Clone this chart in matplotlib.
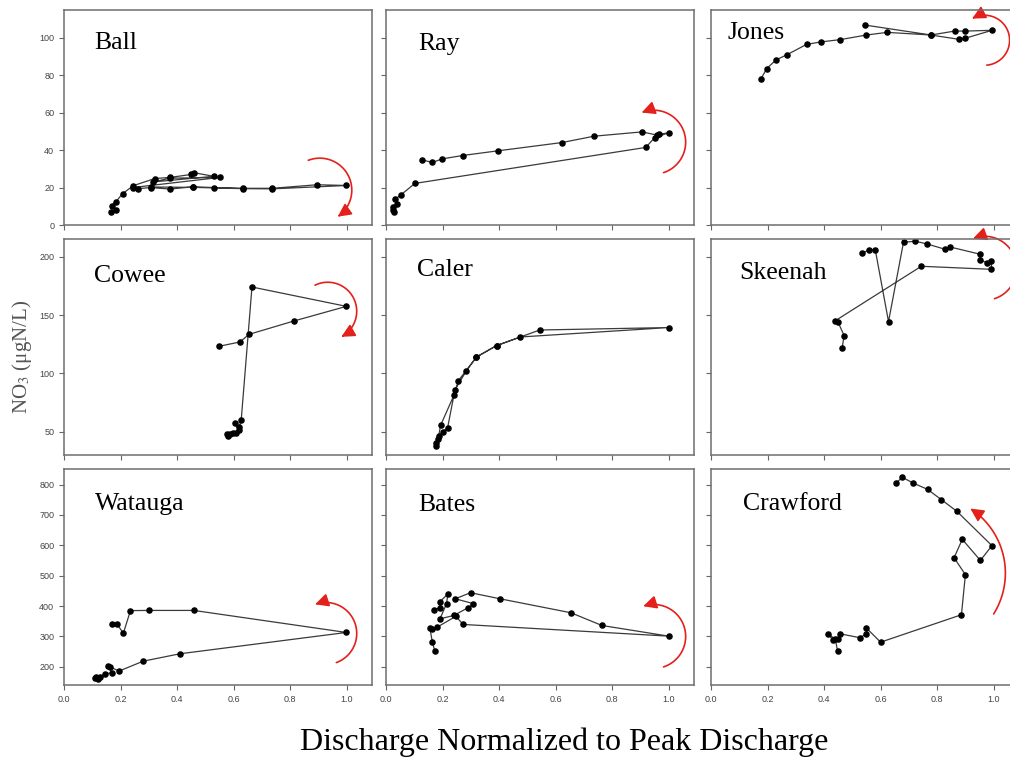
import numpy as np
import matplotlib
matplotlib.use('Agg')
import matplotlib.pyplot as plt
from matplotlib.patches import FancyArrowPatch
from matplotlib.path import Path

plt.rcParams['mathtext.fontset'] = 'stix'

#%% data: discharge normalized to peak vs NO3 (ugN/L)
sites = ['Ball', 'Ray', 'Jones', 'Cowee', 'Caler', 'Skeenah', 'Watauga', 'Bates', 'Crawford']

ball_x = [0.166, 0.183, 0.169, 0.184, 0.207, 0.245, 0.321, 0.375, 0.451, 0.460, 0.530, 0.316,
          0.375, 0.551, 0.243, 0.262, 0.306, 0.375, 0.457, 0.530, 0.634, 0.737, 0.896, 0.999,
          0.737, 0.634, 0.457, 0.306]
ball_y = [7.1, 8.0, 10.3, 12.5, 16.7, 21.0, 24.8, 25.4, 27.0, 27.9, 26.0, 23.0,
          25.0, 25.4, 20.0, 19.4, 20.0, 19.2, 20.4, 20.0, 19.6, 19.6, 21.5, 21.1,
          19.3, 19.4, 20.1, 20.3]

ray_x = [0.028, 0.026, 0.024, 0.038, 0.032, 0.052, 0.102, 0.919, 0.951, 1.000, 0.965, 0.959,
         0.906, 0.736, 0.622, 0.396, 0.271, 0.199, 0.164, 0.126]
ray_y = [7.1, 8.0, 9.8, 11.2, 13.7, 16.0, 22.2, 41.4, 46.7, 49.2, 48.4, 48.0,
         49.7, 47.4, 44.0, 39.6, 37.1, 35.3, 33.4, 34.8]

jones_x = [0.176, 0.197, 0.230, 0.269, 0.338, 0.388, 0.456, 0.550, 0.623, 0.778, 0.877, 0.898,
           0.994, 0.900, 0.862, 0.778, 0.545]
jones_y = [77.8, 83.5, 88.1, 90.9, 96.4, 97.7, 98.9, 101.4, 102.8, 101.4, 99.1, 99.6,
           103.9, 103.5, 103.5, 101.4, 106.7]

cowee_x = [0.587, 0.575, 0.581, 0.598, 0.610, 0.618, 0.604, 0.620, 0.627, 0.665, 0.999, 0.813,
           0.655, 0.622, 0.548]
cowee_y = [48.1, 48.1, 45.9, 49.3, 49.3, 51.5, 57.3, 54.0, 60.3, 174.2, 157.6, 145.0,
           133.6, 127.0, 123.3]

caler_x = [0.177, 0.186, 0.193, 0.241, 0.256, 0.320, 0.391, 0.544, 1.000, 0.475, 0.391, 0.320,
           0.284, 0.244, 0.218, 0.200, 0.183, 0.178]
caler_y = [37.4, 46.0, 55.4, 81.7, 93.8, 114.1, 123.9, 137.3, 139.4, 131.3, 123.9, 114.1,
           102.1, 86.1, 53.5, 50.0, 43.7, 40.3]

skeenah_x = [0.464, 0.471, 0.449, 0.438, 0.744, 0.992, 0.992, 0.978, 0.951, 0.953, 0.845, 0.828,
             0.764, 0.723, 0.681, 0.628, 0.581, 0.558, 0.534]
skeenah_y = [122.2, 132.5, 144.2, 145.0, 192.0, 189.4, 196.6, 195.0, 197.4, 202.3, 208.6, 206.6,
             211.2, 213.5, 212.6, 144.5, 206.3, 205.8, 203.3]

watauga_x = [0.113, 0.110, 0.121, 0.127, 0.145, 0.169, 0.157, 0.163, 0.194, 0.280, 0.410, 0.999,
             0.459, 0.302, 0.235, 0.210, 0.186, 0.170]
watauga_y = [167, 162, 160, 167, 177, 180, 204, 200, 185.5, 218.4, 242.8, 313,
             385.6, 385.6, 385, 310.8, 341.7, 341]

bates_x = [0.173, 0.164, 0.155, 0.161, 0.181, 0.247, 0.273, 1.000, 0.764, 0.654, 0.403, 0.299,
           0.245, 0.309, 0.291, 0.240, 0.191, 0.214, 0.219, 0.190, 0.191, 0.170]
bates_y = [250.4, 281, 328, 325, 330.6, 366, 339.4, 300.9, 336, 378, 424, 444,
           424, 408, 395, 369, 358, 407.7, 440, 414, 395, 387]

crawford_x = [0.448, 0.440, 0.415, 0.432, 0.450, 0.456, 0.527, 0.550, 0.550, 0.600, 0.886, 0.900,
              0.860, 0.889, 0.953, 0.994, 0.870, 0.815, 0.766, 0.715, 0.677, 0.653]
crawford_y = [250.4, 290, 308.7, 286.6, 290, 308.7, 295.6, 308.7, 327.3, 281, 371.4, 503.3,
              559.3, 619.7, 550.4, 598.9, 712, 750.5, 784.5, 805.3, 824, 804]

xs = [ball_x, ray_x, jones_x, cowee_x, caler_x, skeenah_x, watauga_x, bates_x, crawford_x]
ys = [ball_y, ray_y, jones_y, cowee_y, caler_y, skeenah_y, watauga_y, bates_y, crawford_y]

# red hysteresis arrows: arc centre (data), radius (px), start / end angle (deg); Caler has none
arrows = [((0.905, 18.6), 32, 111, -56),
          ((0.947, 44.2), 32, -72, 112),
          ((0.968, 98.6), 25, -85, 120),
          ((0.933, 153.4), 29, 116, -62),
          None,
          ((0.968, 190.3), 32, -72, 111),
          ((0.926, 309.7), 31, -70, 110),
          ((0.947, 299.8), 32, -72, 109),
          ((0.769, 508.5), 77, -32, 57)]

row_ylim = [(0, 115), (30, 215), (140, 850)]
row_yticks = [[0, 20, 40, 60, 80, 100], [50, 100, 150, 200], [200, 300, 400, 500, 600, 700, 800]]
xticks = [0.0, 0.2, 0.4, 0.6, 0.8, 1.0]

title_y = [0.845, 0.84, 0.89, 0.83, 0.86, 0.845, 0.84, 0.835, 0.84]
title_x = [0.097, 0.104, 0.052, 0.097, 0.101, 0.091, 0.10, 0.104, 0.104]

#%% plot
fig = plt.figure(figsize=[10.1, 7.61], dpi=100)

col_left = [0.0634, 0.3822, 0.704]
row_bottom = [0.7043, 0.4021, 0.0999]
w, h = 0.305, 0.2832

for i, name in enumerate(sites):
    r, c = i // 3, i % 3
    ax = fig.add_axes([col_left[c], row_bottom[r], w, h])
    ax.plot(xs[i], ys[i], '-', color='#3a3a3a', lw=0.9)
    ax.plot(xs[i], ys[i], 'o', color='black', ms=3.7, mec='black')
    ax.set_xlim(0, 1.09)
    ax.set_ylim(*row_ylim[r])
    ax.set_xticks(xticks)
    ax.set_yticks(row_yticks[r])
    ax.tick_params(direction='out', length=3.5, width=0.8, color='#666',
                   labelsize=6.5, labelcolor='#444')
    for lab in ax.get_xticklabels() + ax.get_yticklabels():
        lab.set_family('Liberation Sans')
    if r < 2:
        ax.set_xticklabels([])
    else:
        ax.set_xticklabels(['%.1f' % t for t in xticks])
    if c > 0:
        ax.set_yticklabels([])
    for sp in ax.spines.values():
        sp.set_color('#6e6e6e')
        sp.set_linewidth(1.1)
    ax.text(title_x[i], title_y[i], name, transform=ax.transAxes, fontsize=18.5,
            family='Liberation Serif', va='center', ha='left')

    if arrows[i] is not None:
        centre, rad_px, a0, a1 = arrows[i]
        cx, cy = ax.transData.transform(centre)
        t = np.radians(np.linspace(a0, a1, 60))
        pts_disp = np.column_stack([cx + rad_px * np.cos(t), cy + rad_px * np.sin(t)])
        pts = ax.transData.inverted().transform(pts_disp)
        arr = FancyArrowPatch(path=Path(pts), arrowstyle='-|>,head_length=0.8,head_width=0.4',
                              mutation_scale=10, color='#e3201b', lw=1.2)
        arr.set_clip_on(False)
        ax.add_patch(arr)

fig.text(0.022, 0.531, 'NO$_3$ (μgN/L)', rotation=90, ha='center', va='center',
         fontsize=15, family='Liberation Serif', color='#555555')
fig.text(0.559, 0.025, 'Discharge Normalized to Peak Discharge', ha='center', va='center',
         fontsize=23, family='Liberation Serif')

plt.savefig('out.png', dpi=100)
